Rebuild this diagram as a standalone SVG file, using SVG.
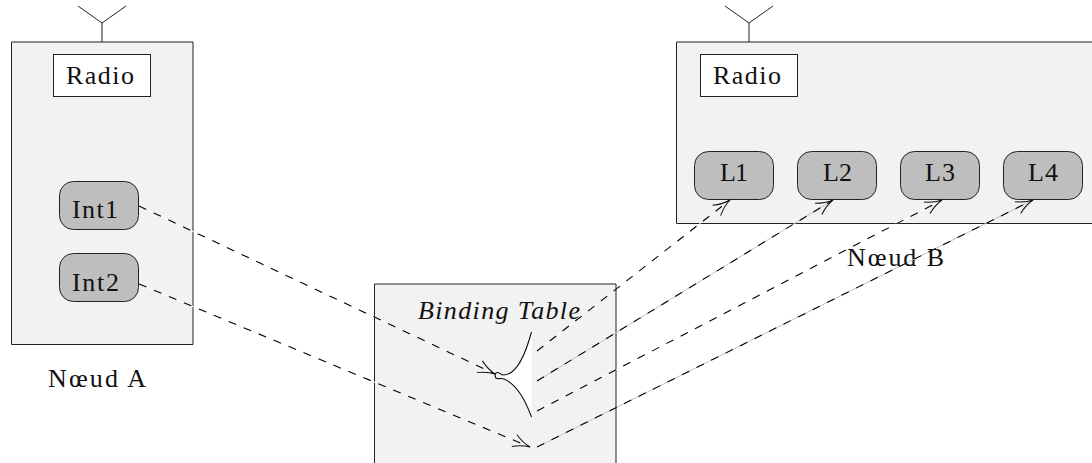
<svg xmlns="http://www.w3.org/2000/svg" width="1092" height="463" viewBox="0 0 1092 463">
<style>
text{font-family:"Liberation Serif","Times New Roman",serif;font-size:26px;fill:#111}
.box{fill:#f2f2f2;stroke:#222;stroke-width:1}
.radio{fill:#fff;stroke:#222;stroke-width:1}
.port{fill:#bebebe;stroke:#222;stroke-width:1}
.ant{fill:none;stroke:#222;stroke-width:1}
.link{fill:none;stroke:#000;stroke-width:1.100;stroke-dasharray:8.100 8.100}
.under-w{fill:none;stroke:#fff;stroke-width:1}
.under-g{fill:none;stroke:#c0c0c0;stroke-width:1}
.solid{fill:none;stroke:#111;stroke-width:1.100}
</style>
<defs>
<marker id="arr" markerUnits="userSpaceOnUse" markerWidth="20" markerHeight="16" refX="18" refY="8" orient="auto">
<path d="M1,1.500 Q10,7 18,8 Q10,9 1,14.500" fill="none" stroke="#111" stroke-width="1"/>
</marker>
</defs>
<g id="node-a">
<path class="box" d="M11.500,42H193V344.500H11.500Z"/>
<path class="ant" d="M102,42V23M78,6L102,23L126,6"/>
<g id="radio-a"><rect class="radio" x="53.500" y="54.500" width="97" height="42"/><text x="66" y="84" textLength="68">Radio</text></g>
<g id="int1"><rect class="port" x="59.500" y="181.500" width="79" height="48" rx="14"/><text x="72" y="218" textLength="46">Int1</text></g>
<g id="int2"><rect class="port" x="59.500" y="253.500" width="79" height="48" rx="14"/><text x="72" y="291" textLength="47">Int2</text></g>
<text x="48" y="387" textLength="98">Nœud A</text>
</g>
<g id="node-b">
<path class="box" d="M676.500,42H1093V223.500H676.500Z"/>
<path class="ant" d="M749,42V23M725,6L749,23L773,6"/>
<g id="radio-b"><rect class="radio" x="700.500" y="54.500" width="97" height="42"/><text x="713" y="84" textLength="68">Radio</text></g>
<g id="l1"><rect class="port" x="694.500" y="151.500" width="79" height="48" rx="14"/><text x="720" y="181" textLength="28">L1</text></g>
<g id="l2"><rect class="port" x="797.500" y="151.500" width="79" height="48" rx="14"/><text x="823" y="181" textLength="29">L2</text></g>
<g id="l3"><rect class="port" x="900.500" y="151.500" width="79" height="48" rx="14"/><text x="925" y="181" textLength="30">L3</text></g>
<g id="l4"><rect class="port" x="1003.500" y="151.500" width="79" height="48" rx="14"/><text x="1028" y="181" textLength="30">L4</text></g>
<text x="847" y="266" textLength="97">Nœud B</text>
</g>
<g id="binding-table">
<path d="M374.500,463V284H616V463" fill="#f2f2f2" stroke="#222"/>
<text x="418" y="319" textLength="162" style="font-style:italic">Binding Table</text>
<path d="M531.500,332C525,356 516,375 503,375L503,379C516,384 525,399 531.500,417Z" fill="#fff" stroke="none"/>
<path class="solid" d="M531.500,332C525,356 516,375 503.500,375C500.500,375 499.500,372 497,372.500C494.500,373 494.500,378 497,378.500C499.500,379 501,378 504,379C516,384 525,399 531.500,417"/>
</g>
<g id="connectors">
<path class="under-w" d="M139,206L495,374M139,284L530,447M537,351L730,200M537,411L942,200"/>
<path class="under-g" d="M537,381L833,200M537,447L1033,200"/>
<path class="link" marker-end="url(#arr)" d="M139,206L495,374"/>
<path class="link" marker-end="url(#arr)" d="M139,284L530,447"/>
<path class="link" marker-end="url(#arr)" d="M537,351L730,200"/>
<path class="link" marker-end="url(#arr)" d="M537,381L833,200"/>
<path class="link" marker-end="url(#arr)" d="M537,411L942,200"/>
<path class="link" marker-end="url(#arr)" d="M537,447L1033,200"/>
</g>
</svg>
